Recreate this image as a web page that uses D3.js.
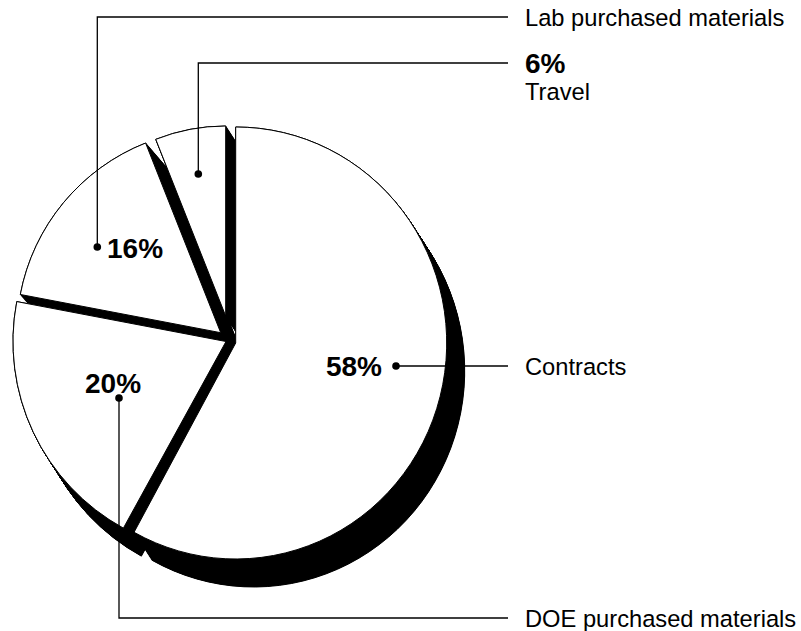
<!DOCTYPE html>
<html>
<head>
<meta charset="utf-8">
<script src="https://cdn.jsdelivr.net/npm/d3@7"></script>
<style>
  html, body { margin: 0; padding: 0; background: #fff; }
  svg { display: block; }
  text { font-family: "Liberation Sans", Arial, Helvetica, sans-serif; fill: #000; }
</style>
</head>
<body>
<svg id="chart" width="801" height="631"></svg>
<script>
// Budget shares (percent of total)
const categories = ["Contracts", "DOE purchased materials", "Lab purchased materials", "Travel"];
const shares = [58, 20, 16, 6];
const percentLabels = ["58%", "20%", "16%", "6%"];

// Exploded-slice placement: apex, radii and shadow extrusion for each wedge
const sliceLayout = [
  { ax: 235.7, ay: 343,   rx: 211, ry: 216, sdx: 18, sdy: 28 },
  { ax: 226,   ay: 341.5, rx: 213, ry: 213, sdx: 18, sdy: 28 },
  { ax: 220.7, ay: 332.7, rx: 204, ry: 204, sdx: 24, sdy: 28 },
  { ax: 225.7, ay: 316,   rx: 190, ry: 190, sdx: 18, sdy: 28 }
];

// Callout placement: dot, elbow leader and text anchors
const calloutLayout = [
  { dot: [396, 366],   elbowY: null, lineEndX: 508, pct: { x: 382, y: 376, anchor: "end" },   name: { x: 525, y: 374.5 } },
  { dot: [119, 398],   elbowY: 618,  lineEndX: 508, pct: { x: 85,  y: 393, anchor: "start" }, name: { x: 525, y: 626.5 } },
  { dot: [97.3, 247],  elbowY: 17,   lineEndX: 508, pct: { x: 107, y: 258, anchor: "start" }, name: { x: 525, y: 26 } },
  { dot: [198.3, 174], elbowY: 63,   lineEndX: 508, pct: { x: 525, y: 73,  anchor: "start" }, name: { x: 525, y: 99.5 } }
];

const svg = d3.select("#chart");

const pie = d3.pie().sort(null).value(d => d.value)
  .startAngle(0).endAngle(2 * Math.PI);
const arcs = pie(categories.map((c, i) => ({ name: c, value: shares[i], i })));

const arcGen = d3.arc().innerRadius(0);

function wedgePath(a) {
  const g = sliceLayout[a.data.i];
  return arcGen.outerRadius(g.ry)(a);
}
function wedgeTransform(a, t) {
  const g = sliceLayout[a.data.i];
  return `translate(${g.ax + t * g.sdx},${g.ay + t * g.sdy}) scale(${g.rx / g.ry},1)`;
}

// Solid black extrusion under every wedge
const steps = d3.range(0, 1.0001, 1 / 48);
const shadowLayer = svg.append("g").attr("class", "shadows");
arcs.forEach(a => {
  shadowLayer.append("g")
    .selectAll("path")
    .data(steps)
    .join("path")
    .attr("d", wedgePath(a))
    .attr("transform", t => wedgeTransform(a, t))
    .attr("fill", "#000")
    .attr("stroke", "#000")
    .attr("stroke-width", 1)
    .attr("vector-effect", "non-scaling-stroke");
});

// White wedges on top
svg.append("g").attr("class", "slices")
  .selectAll("path")
  .data(arcs)
  .join("path")
  .attr("d", wedgePath)
  .attr("transform", a => wedgeTransform(a, 0))
  .attr("fill", "#fff")
  .attr("stroke", "#000")
  .attr("stroke-width", 1)
  .attr("vector-effect", "non-scaling-stroke");

// Callouts
const callouts = svg.append("g").attr("class", "callouts");
arcs.forEach(a => {
  const c = calloutLayout[a.data.i];
  const [x0, y0] = c.dot;
  const path = d3.path();
  path.moveTo(x0, y0);
  if (c.elbowY !== null) path.lineTo(x0, c.elbowY);
  path.lineTo(c.lineEndX, c.elbowY !== null ? c.elbowY : y0);
  callouts.append("path")
    .attr("d", path.toString())
    .attr("fill", "none")
    .attr("stroke", "#000")
    .attr("stroke-width", 1.3);
  callouts.append("circle")
    .attr("cx", x0).attr("cy", y0).attr("r", 3.8)
    .attr("fill", "#000");
  callouts.append("text")
    .attr("x", c.pct.x).attr("y", c.pct.y)
    .attr("text-anchor", c.pct.anchor)
    .attr("font-weight", "bold")
    .attr("font-size", 28)
    .text(percentLabels[a.data.i]);
  callouts.append("text")
    .attr("x", c.name.x).attr("y", c.name.y)
    .attr("font-size", 23.7)
    .text(a.data.name);
});
</script>
</body>
</html>
